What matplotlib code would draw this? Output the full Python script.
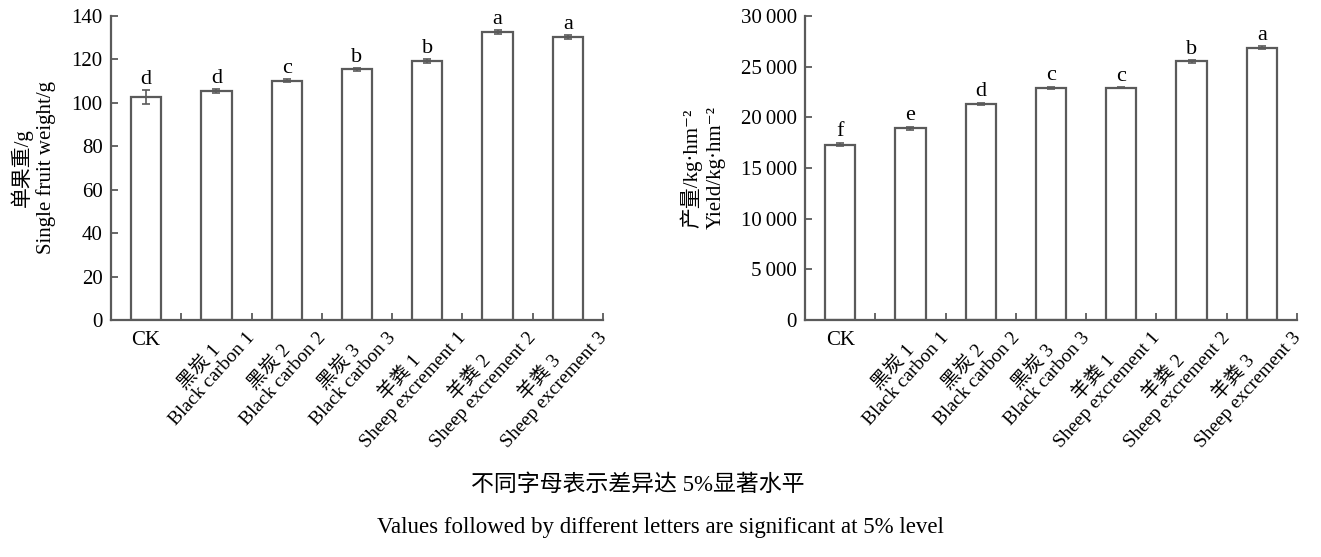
import numpy as np
import matplotlib
matplotlib.use("Agg")
import matplotlib.pyplot as plt
from matplotlib.ticker import FuncFormatter
from matplotlib.transforms import ScaledTranslation

plt.rcParams['font.family'] = ['Liberation Serif', 'Noto Sans CJK SC', 'DejaVu Sans']
plt.rcParams['axes.unicode_minus'] = False

# data
cat_cn = ["CK", "黑炭 1", "黑炭 2", "黑炭 3", "羊粪 1", "羊粪 2", "羊粪 3"]
cat_en = ["", "Black carbon 1", "Black carbon 2", "Black carbon 3",
          "Sheep excrement 1", "Sheep excrement 2", "Sheep excrement 3"]

fruit_weight = [102.7, 105.3, 110.1, 115.4, 119.1, 132.6, 130.3]
fruit_err = [3.2, 1.0, 0.7, 0.6, 0.9, 0.9, 0.9]
fruit_letters = ["d", "d", "c", "b", "b", "a", "a"]

yield_vals = [17300, 18900, 21300, 22900, 22900, 25500, 26850]
yield_err = [180, 170, 120, 120, 60, 150, 130]
yield_letters = ["f", "e", "d", "c", "c", "b", "a"]

edge = "#5a5a5a"
fs = 15


def draw_panel(ax, vals, errs, letters, ymax, ystep, ylabel, fmt=None):
    x = np.arange(len(vals))
    ax.bar(x, vals, width=0.43, color="white", edgecolor=edge, linewidth=1.6,
           yerr=errs, error_kw=dict(ecolor=edge, elinewidth=1.2, capsize=3, capthick=1.2))
    for xi, v, e, t in zip(x, vals, errs, letters):
        ax.annotate(t, (xi, v + e), xytext=(0, 1), textcoords="offset points",
                    ha="center", va="bottom", fontsize=16)
    ax.set_xlim(-0.5, len(vals) - 0.5)
    ax.set_ylim(0, ymax)
    ax.set_yticks(np.arange(0, ymax + 1, ystep))
    if fmt:
        ax.yaxis.set_major_formatter(FuncFormatter(fmt))
    ax.set_xticks(x + 0.5)
    ax.set_xticklabels([])
    ax.tick_params(axis="both", direction="in", length=5, width=1.3, color=edge,
                   labelsize=fs)
    ax.tick_params(axis="y", pad=6)
    for s in ["top", "right"]:
        ax.spines[s].set_visible(False)
    for s in ["left", "bottom"]:
        ax.spines[s].set_color(edge)
        ax.spines[s].set_linewidth(1.6)
    ax.set_ylabel(ylabel, fontsize=fs, multialignment="center", labelpad=11,
                  linespacing=1.25)

    # category labels: CK flat under its bar, the rest slanted up to the next tick
    trans = ax.get_xaxis_transform()
    ax.text(0, 0, cat_cn[0], transform=trans + ScaledTranslation(0, -8 / 72, ax.figure.dpi_scale_trans),
            ha="center", va="top", fontsize=fs)
    for i in range(1, len(vals)):
        lab = cat_cn[i] + "\n" + cat_en[i]
        off = ScaledTranslation(5 / 72, -15 / 72, ax.figure.dpi_scale_trans)
        ax.text(i + 0.5, 0, lab, transform=trans + off, rotation=48,
                rotation_mode="anchor", ha="right", va="bottom",
                multialignment="center", fontsize=14, linespacing=1.1)


fig = plt.figure(figsize=(13.21, 5.57), dpi=100)
ax1 = fig.add_axes([0.084, 0.4255, 0.3725, 0.546])
ax2 = fig.add_axes([0.6094, 0.4255, 0.3724, 0.546])

draw_panel(ax1, fruit_weight, fruit_err, fruit_letters, 140, 20,
           "单果重/g\nSingle fruit weight/g")
draw_panel(ax2, yield_vals, yield_err, yield_letters, 30000, 5000,
           "产量/kg·hm⁻²\nYield/kg·hm⁻²",
           fmt=lambda v, p: "{:,.0f}".format(v).replace(",", "\u2009"))

fig.text(0.483, 1 - 485 / 557, "不同字母表示差异达 5%显著水平", ha="center", va="center", fontsize=16.5)
fig.text(0.5, 1 - 527 / 557, "Values followed by different letters are significant at 5% level",
         ha="center", va="center", fontsize=16.5)

fig.savefig("out.png", dpi=100)
